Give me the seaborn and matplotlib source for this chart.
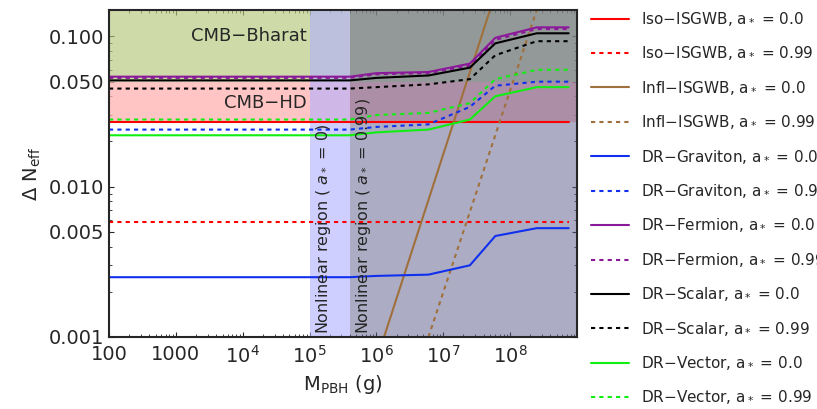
import numpy as np
import matplotlib.pyplot as plt
import seaborn as sns

sns.set_style("ticks")

# mass grid (g) and Delta N_eff curves
mass = [1e2, 1e5, 4e5, 1e6, 6e6, 2.5e7, 6e7, 2.5e8, 7.5e8]
iso_0 = [0.027] * 9
iso_99 = [0.0058] * 9
grav_0 = [0.0025, 0.0025, 0.0025, 0.00255, 0.0026, 0.0030, 0.0047, 0.0053, 0.0053]
grav_99 = [0.024, 0.024, 0.024, 0.025, 0.026, 0.034, 0.047, 0.050, 0.050]
ferm_0 = [0.054, 0.054, 0.054, 0.057, 0.058, 0.066, 0.098, 0.115, 0.115]
ferm_99 = [0.053, 0.053, 0.053, 0.056, 0.057, 0.064, 0.095, 0.112, 0.112]
scal_0 = [0.051, 0.051, 0.051, 0.053, 0.055, 0.062, 0.090, 0.105, 0.105]
scal_99 = [0.045, 0.045, 0.045, 0.046, 0.048, 0.052, 0.075, 0.093, 0.093]
vec_0 = [0.022, 0.022, 0.022, 0.023, 0.024, 0.028, 0.040, 0.046, 0.046]
vec_99 = [0.028, 0.028, 0.028, 0.030, 0.031, 0.036, 0.052, 0.060, 0.060]
infl_m0 = [1.3e6, 5e7]
infl_m99 = [6e6, 2.5e8]
infl_n = [0.001, 0.15]

fig = plt.figure(figsize=(8.17, 4.09), dpi=100)
ax = fig.add_axes([109 / 817, 1 - 337 / 409, 468 / 817, 327 / 409])

ax.axhspan(0.05, 0.2, color="#b5c77a", alpha=0.65, lw=0)
ax.axhspan(0.027, 0.05, color="#ffb0b0", alpha=0.75, lw=0)
ax.axvspan(1e5, 4e5, color="#b0b0ff", alpha=0.6, lw=0)
ax.axvspan(4e5, 1e9, color="#5a5a8a", alpha=0.5, lw=0)

series = [
    ("Iso\u2212ISGWB", iso_0, iso_99, "red"),
    ("Infl\u2212ISGWB", None, None, "#a0703c"),
    ("DR\u2212Graviton", grav_0, grav_99, "#1030ee"),
    ("DR\u2212Fermion", ferm_0, ferm_99, "#8b1a9a"),
    ("DR\u2212Scalar", scal_0, scal_99, "black"),
    ("DR\u2212Vector", vec_0, vec_99, "#11ee11"),
]
for name, v0, v99, c in series:
    if v0 is None:
        sns.lineplot(x=infl_m0, y=infl_n, ax=ax, color=c, lw=1.5,
                     label=name + ", a$_*$ = 0.0")
        sns.lineplot(x=infl_m99, y=infl_n, ax=ax, color=c, lw=1.5, ls=(0, (2, 2)),
                     label=name + ", a$_*$ = 0.99")
    else:
        sns.lineplot(x=mass, y=v0, ax=ax, color=c, lw=1.5,
                     label=name + ", a$_*$ = 0.0")
        sns.lineplot(x=mass, y=v99, ax=ax, color=c, lw=1.5, ls=(0, (2, 2)),
                     label=name + ", a$_*$ = 0.99")

ax.set_xscale("log")
ax.set_yscale("log")
ax.set_xlim(100, 1e9)
ax.set_ylim(0.001, 0.15)
ax.set_xticks([1e2, 1e3, 1e4, 1e5, 1e6, 1e7, 1e8])
ax.set_xticklabels(["100", "1000", "$10^4$", "$10^5$", "$10^6$", "$10^7$", "$10^8$"])
ax.set_yticks([0.001, 0.005, 0.01, 0.05, 0.1])
ax.set_yticklabels(["0.001", "0.005", "0.010", "0.050", "0.100"])
ax.tick_params(labelsize=14, direction="in", top=True, right=True, which="both")
ax.tick_params(axis="x", pad=6)
for s in ax.spines.values():
    s.set_linewidth(1.5)
ax.set_xlabel("M$_{\\rm PBH}$ (g)", fontsize=14)
ax.set_ylabel("$\\Delta$ N$_{\\rm eff}$", fontsize=14)

ax.text(9e4, 0.1, "CMB\u2212Bharat", fontsize=13, ha="right", va="center")
ax.text(9e4, 0.036, "CMB\u2212HD", fontsize=13, ha="right", va="center")
ax.text(1.6e5, 0.00104, "Nonlinear region ( $a_*$ = 0)", rotation=90,
        fontsize=11.5, ha="center", va="bottom")
ax.text(6.5e5, 0.00104, "Nonlinear region ( $a_*$ = 0.99)", rotation=90,
        fontsize=11.5, ha="center", va="bottom")

ax.legend(loc="upper left", bbox_to_anchor=(1.0, 1.04), frameon=False,
          fontsize=11, labelspacing=1.12, handlelength=2.5)
fig.savefig("out.png", dpi=100)
